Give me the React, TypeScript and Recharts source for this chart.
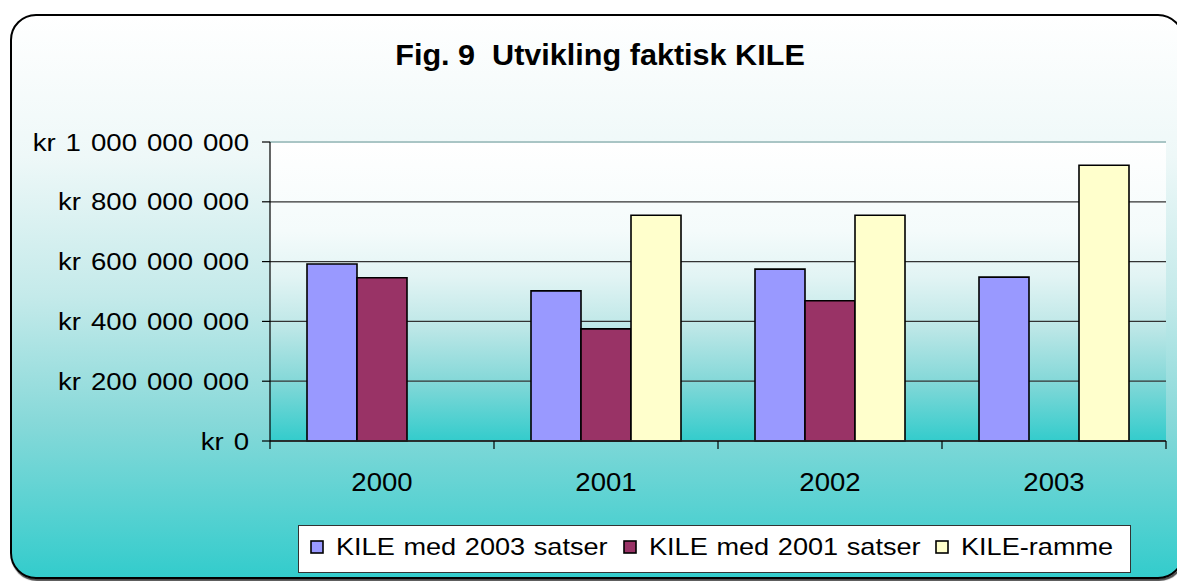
import React from 'react';
import { BarChart, Bar, XAxis, YAxis, CartesianGrid, ReferenceLine } from 'recharts';

// Fig. 9 data (NOK)
const years = ['2000', '2001', '2002', '2003'];
const kile2003 = [592000000, 502000000, 575000000, 548000000];
const kile2001 = [546000000, 375000000, 469000000, null];
const kileRamme = [null, 755000000, 755000000, 922000000];
const yTicks = [0, 200000000, 400000000, 600000000, 800000000, 1000000000];

const seriesKeys = ['k2003', 'k2001', 'ramme'];
const seriesNames = ['KILE med 2003 satser', 'KILE med 2001 satser', 'KILE-ramme'];
const seriesColors = ['#9999FF', '#993366', '#FFFFCC'];

const W = 1177;
const H = 581;
const margin = { top: 142, right: 11, left: 10, bottom: 100 };
const Y_AXIS_W = 260;
const X_AXIS_H = 40;
const BAND = (W - margin.left - margin.right - Y_AXIS_W) / years.length;
const FONT = "'Liberation Sans', Arial, sans-serif";

const data = years.map((year, i) => ({
  year,
  k2003: kile2003[i],
  k2001: kile2001[i],
  ramme: kileRamme[i],
}));

const fmtKr = (v: number) => 'kr ' + String(v).replace(/\B(?=(\d{3})+(?!\d))/g, ' ');

const YTick = (props: any) => {
  const { x, y, payload } = props;
  return (
    <text
      transform={`translate(${x},${y}) scale(1.15,1)`}
      textAnchor="end"
      dy="0.36em"
      fontSize={24}
      fontFamily={FONT}
      fill="#000"
      style={{ wordSpacing: 2 }}
    >
      {fmtKr(payload.value)}
    </text>
  );
};

// category labels, with tick marks on the category borders
const XTick = (props: any) => {
  const { x, y, payload, index } = props;
  const half = BAND / 2;
  return (
    <g>
      <line x1={x - half} x2={x - half} y1={y} y2={y + 8} stroke="#000" strokeWidth={1.2} />
      {index === years.length - 1 && (
        <line x1={x + half} x2={x + half} y1={y} y2={y + 8} stroke="#000" strokeWidth={1.2} />
      )}
      <text
        transform={`translate(${x},${y + 50}) scale(1.06,1)`}
        textAnchor="middle"
        fontSize={26}
        fontFamily={FONT}
        fill="#000"
      >
        {payload.value}
      </text>
    </g>
  );
};

// legend layout inside the white box
const legendSwatchX = [311, 624, 936];

const App: React.FC = () => {
  return (
    <div style={{ position: 'absolute', left: 0, top: 0, width: W, height: H, overflow: 'hidden', background: '#fff' }}>
      {/* outer rounded frame */}
      <div
        style={{
          position: 'absolute',
          left: 10,
          top: 14,
          width: 1174,
          height: 565,
          boxSizing: 'border-box',
          border: '2px solid #000',
          borderRadius: 26,
          boxShadow: '1px 2px 1px rgba(0,0,0,0.7)',
          background:
            'linear-gradient(to bottom, #ffffff 0%, #eef8f8 25%, #c4eaea 50%, #88d9d9 72%, #33cccc 100%)',
        }}
      />

      <div style={{ position: 'absolute', left: 0, top: 0 }}>
        <BarChart width={W} height={H} data={data} margin={margin} barCategoryGap={37} barGap={0}>
          <defs>
            <linearGradient id="plotBg" x1="0" y1="0" x2="0" y2="1">
              <stop offset="0%" stopColor="#ffffff" />
              <stop offset="30%" stopColor="#f4fbfb" />
              <stop offset="45%" stopColor="#e2f4f4" />
              <stop offset="62%" stopColor="#bde7e7" />
              <stop offset="80%" stopColor="#84d8d8" />
              <stop offset="100%" stopColor="#33cccc" />
            </linearGradient>
          </defs>
          <CartesianGrid vertical={false} stroke="#333" strokeWidth={1.3} fill="url(#plotBg)" fillOpacity={1} />
          <ReferenceLine y={1000000000} stroke="#a9c5c5" strokeWidth={2} />
          <XAxis
            dataKey="year"
            height={X_AXIS_H}
            interval={0}
            tickLine={false}
            tickSize={0}
            tickMargin={0}
            axisLine={{ stroke: '#222', strokeWidth: 1.3 }}
            tick={<XTick />}
          />
          <YAxis
            width={Y_AXIS_W}
            domain={[0, 1000000000]}
            ticks={yTicks}
            interval={0}
            tickSize={8}
            tickMargin={13}
            tickLine={{ stroke: '#000', strokeWidth: 1.2 }}
            axisLine={{ stroke: '#000', strokeWidth: 1.2 }}
            tick={<YTick />}
          />
          {seriesKeys.map((key, i) => (
            <Bar
              key={key}
              dataKey={key}
              name={seriesNames[i]}
              fill={seriesColors[i]}
              stroke="#000"
              strokeWidth={1.6}
              isAnimationActive={false}
            />
          ))}
        </BarChart>
      </div>

      {/* title and legend */}
      <svg width={W} height={H} style={{ position: 'absolute', left: 0, top: 0, pointerEvents: 'none' }}>
        <text
          transform="translate(600,65) scale(1.055,1)"
          textAnchor="middle"
          fontSize={29}
          fontWeight="bold"
          fontFamily={FONT}
          fill="#000"
        >
          {'Fig. 9\u00a0\u00a0Utvikling faktisk KILE'}
        </text>

        <rect x={298.5} y={525.5} width={832} height={47} fill="#fff" stroke="#333" strokeWidth={1} />
        {seriesNames.map((name, i) => (
          <g key={name}>
            <rect
              x={legendSwatchX[i]}
              y={541}
              width={12}
              height={12}
              fill={seriesColors[i]}
              stroke="#000"
              strokeWidth={1.6}
            />
            <text
              transform={`translate(${legendSwatchX[i] + 25},555) scale(1.13,1)`}
              fontSize={24}
              fontFamily={FONT}
              fill="#000"
              style={{ wordSpacing: 1 }}
            >
              {name}
            </text>
          </g>
        ))}
      </svg>
    </div>
  );
};

export default App;
